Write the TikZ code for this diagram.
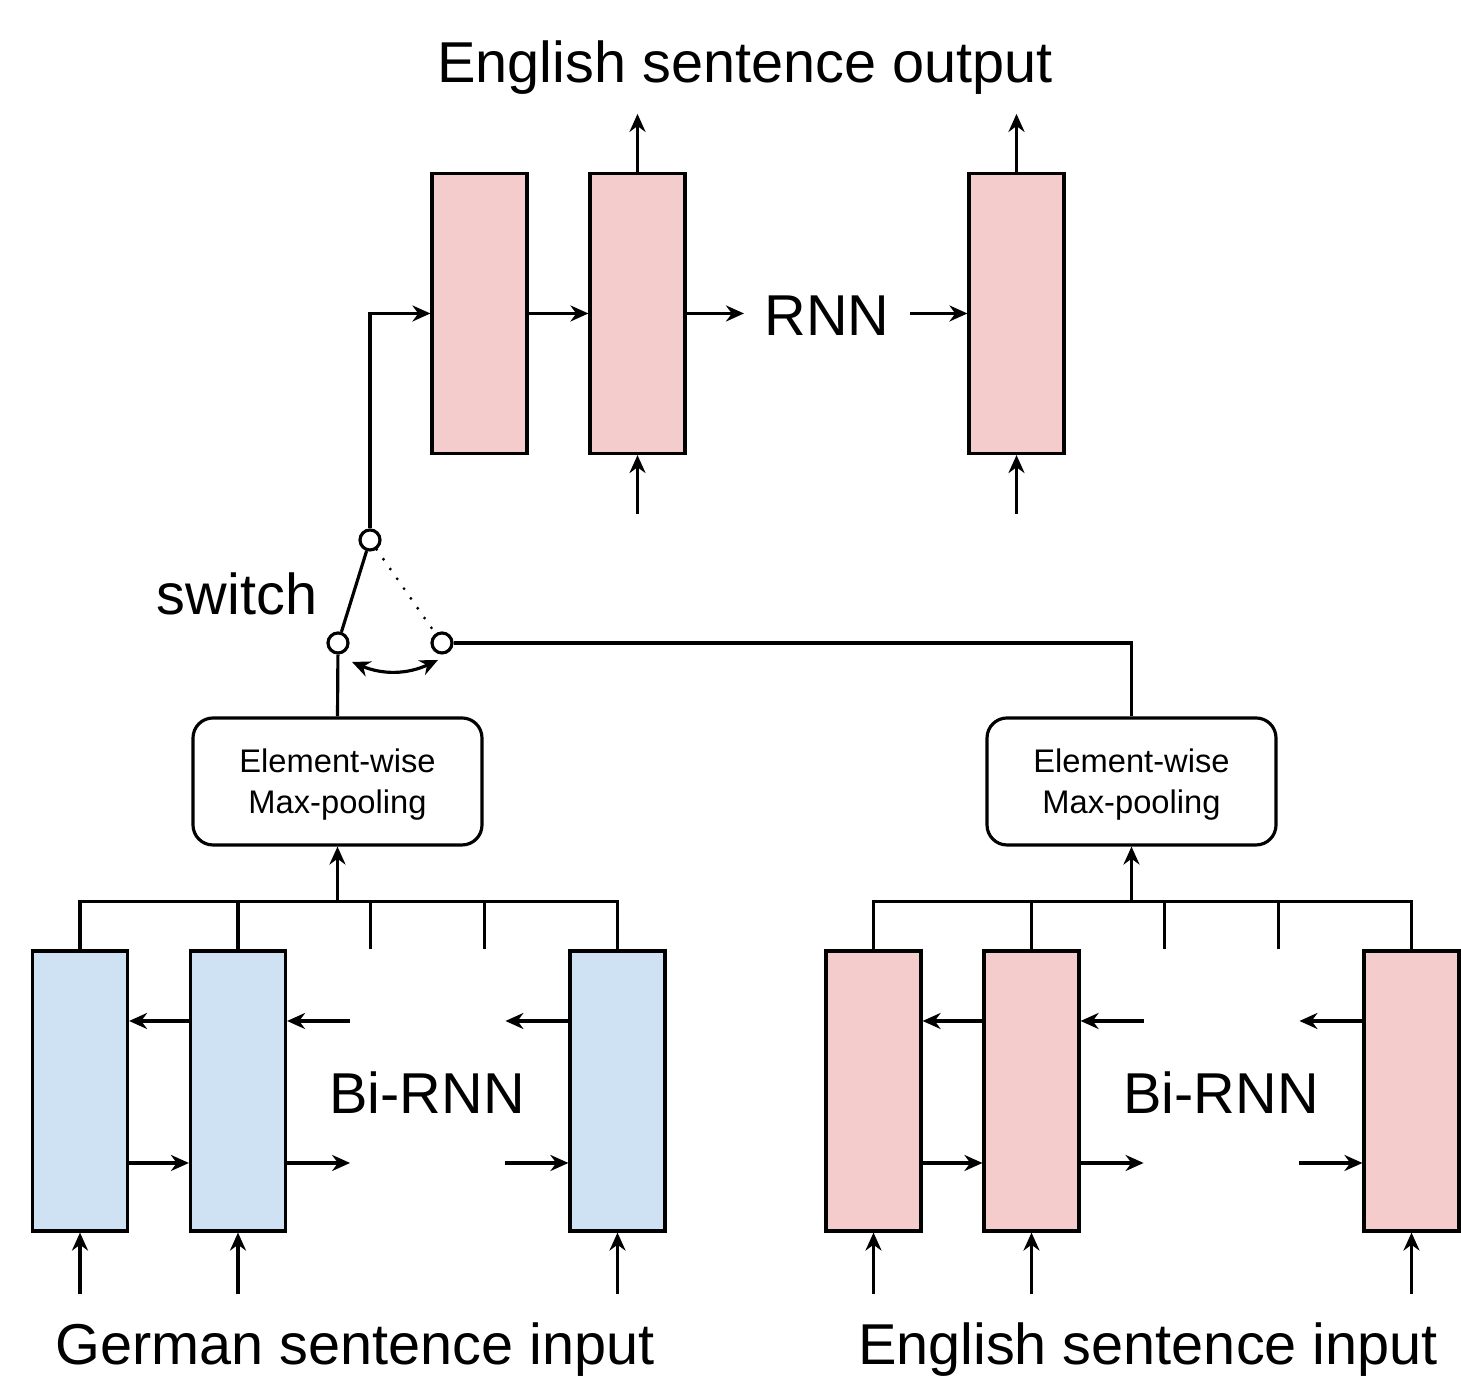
\documentclass[tikz,border=0pt]{standalone}
\usepackage{fontspec}
\setmainfont{Liberation Sans}
\usetikzlibrary{arrows.meta,positioning,calc}

\definecolor{cellred}{HTML}{F4CCCC}
\definecolor{cellblue}{HTML}{CFE2F3}

\tikzset{
  cell/.style={draw, rectangle, minimum width=0.95cm, minimum height=2.8cm, inner sep=0pt},
  pool/.style={draw, rectangle, rounded corners=0.2cm, minimum width=2.89cm, minimum height=1.27cm,
               align=center, text depth=0pt, font=\fontsize{9.3}{11.7}\selectfont},
  pin/.style={draw, circle, fill=white, minimum size=0.2cm, inner sep=0pt},
  big/.style={font=\fontsize{16.4}{19}\selectfont, anchor=base},
}

\begin{document}
\begin{tikzpicture}[line width=0.9pt, >={Stealth[length=1.8mm,width=1.6mm]}]
\useasboundingbox (0,0) rectangle (14.61,13.84);

% decoder RNN
\node[cell, fill=cellred] (t1) at (4.795,10.705) {};
\node[cell, fill=cellred] (t2) at (6.375,10.705) {};
\node[cell, fill=cellred] (t3) at (10.165,10.705) {};
\node[big, inner xsep=0.19cm] (rnn) at (8.27,10.48) {RNN};
\node[big] (out) at (7.45,13.01) {English sentence output};
\draw[->] (t1) -- (t2);
\draw[->] (t2.east) -- (t2.east -| rnn.west);
\draw[->] (rnn.east |- t3.west) -- (t3.west);
\foreach \n in {t2,t3} {
  \draw[->] (\n.north) -- ++(0,0.58);
  \draw[<-] (\n.south) -- ++(0,-0.59);
}

% switch
\node[pin] (swt) at (3.70,8.44) {};
\node[pin] (swl) at (3.38,7.41) {};
\node[pin] (swr) at (4.42,7.41) {};
\node[big] (swlabel) at (2.37,7.69) {switch};
\draw[->] (swt.north) |- (t1.west);
\draw (swt) -- (swl);
\draw[line width=0.9pt, line cap=round, dash pattern=on 0pt off 3.4pt] (swt) -- (swr);
\draw[<->] ([shift={(0.14,-0.19)}]swl.center) to[bend right=24] ([shift={(-0.04,-0.17)}]swr.center);

% max-pooling
\node[pool] (mpg) at (3.375,6.025) {Element-wise\\Max-pooling};
\node[pool] (mpe) at (11.315,6.025) {Element-wise\\Max-pooling};
\draw (swl) -- (mpg.north);
\draw (swr) -| (mpe.north);

% German encoder
\node[cell, fill=cellblue] (g1) at (0.80,2.93) {};
\node[cell, fill=cellblue] (g2) at (2.38,2.93) {};
\node[cell, fill=cellblue] (g3) at (6.175,2.93) {};
\node[big] (gbi) at (4.27,2.70) {Bi-RNN};
\node[big] (gin) at (3.55,0.19) {German sentence input};

% English encoder
\node[cell, fill=cellred] (e1) at (8.735,2.93) {};
\node[cell, fill=cellred] (e2) at (10.315,2.93) {};
\node[cell, fill=cellred] (e3) at (14.115,2.93) {};
\node[big] (ebi) at (12.21,2.70) {Bi-RNN};
\node[big] (ein) at (11.48,0.19) {English sentence input};

\foreach \a/\b/\c/\p in {g1/g2/g3/mpg, e1/e2/e3/mpe} {
  % recurrent links
  \draw[<-] ([yshift=0.70cm]\a.east) -- ([yshift=0.70cm]\b.west);
  \draw[->] ([yshift=-0.72cm]\a.east) -- ([yshift=-0.72cm]\b.west);
  \draw[<-] ([yshift=0.70cm]\b.east) -- ++(0.63,0);
  \draw[->] ([yshift=-0.72cm]\b.east) -- ++(0.63,0);
  \draw[->] ([yshift=0.70cm]\c.west) -- ++(-0.63,0);
  \draw[->] ([yshift=-0.72cm]\c.west) ++(-0.63,0) -- ++(0.63,0);
  % inputs
  \foreach \n in {\a,\b,\c}
    \draw[<-] (\n.south) -- ++(0,-0.61);
  % bus to pooling
  \coordinate (bus) at ($(\a.north)+(0,0.48)$);
  \draw (\a.north) |- (\c.north |- bus) -- (\c.north);
  \draw (\b.north) -- (\b.north |- bus);
  \draw ($(\b.north |- bus)!0.35!(\c.north |- bus)$) coordinate (s1) -- (s1 |- \b.north);
  \draw ($(\b.north |- bus)!0.65!(\c.north |- bus)$) coordinate (s2) -- (s2 |- \b.north);
  \draw[->] (\p.south |- bus) -- (\p.south);
}
\end{tikzpicture}
\end{document}
